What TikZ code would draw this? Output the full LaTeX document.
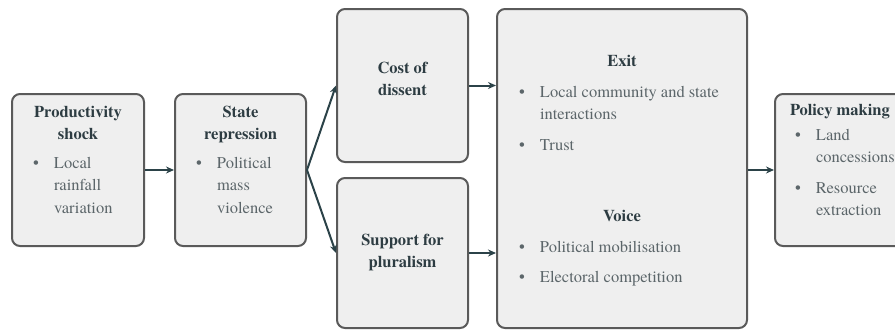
\documentclass[tikz,border=0pt]{standalone}
\usepackage{fontspec}
\setmainfont{texgyretermes}[Extension=.otf,UprightFont=*-regular,BoldFont=*-bold]
\usetikzlibrary{arrows.meta}
\definecolor{bxfill}{RGB}{239,239,239}
\definecolor{bxline}{RGB}{90,90,90}
\definecolor{hdtext}{RGB}{45,60,66}
\definecolor{bdtext}{RGB}{92,102,106}
\definecolor{arcol}{RGB}{43,66,72}
\newcommand{\hd}[1]{\begin{tabular}[t]{@{}c@{}}#1\end{tabular}}
\newcommand{\itm}[1]{\makebox[21pt][l]{\textbullet}\begin{tabular}[t]{@{}l@{}}#1\end{tabular}}

\begin{document}
\begin{tikzpicture}[x=1pt,y=-1pt,line width=2pt,>={Stealth[length=8pt,width=7pt]},
    box/.style={draw=bxline,fill=bxfill,rounded corners=8pt,inner sep=0pt},
    head/.style={inner sep=0pt,anchor=base,text=hdtext,font=\fontsize{16.5}{22.5}\selectfont\bfseries},
    item/.style={inner sep=0pt,anchor=base west,text=bdtext,font=\fontsize{16.5}{22.5}\selectfont},
    link/.style={draw=arcol,->}]
  \useasboundingbox (0,0) rectangle (895,330);
  \clip (0,0) rectangle (895,330);
  % boxes
  \node[box,minimum width=132pt,minimum height=152pt] (prod) at (78,170) {};
  \node[box,minimum width=131pt,minimum height=152pt] (repr) at (240.5,170) {};
  \node[box,minimum width=131pt,minimum height=153pt] (cost) at (402.5,85.5) {};
  \node[box,minimum width=131pt,minimum height=150pt] (plur) at (402.5,253) {};
  \node[box,minimum width=250pt,minimum height=319pt] (exvo) at (622,168.5) {};
  \node[box,minimum width=132pt,minimum height=152pt] (poli) at (841,170) {};
  % texts
  \node[head] (prodhd) at (78,117) {\hd{Productivity\\shock}};
  \node[item] (prodit) at (32,168) {\itm{Local\\rainfall\\variation}};
  \node[head] (reprhd) at (240.5,117) {\hd{State\\repression}};
  \node[item] (reprit) at (195,168) {\itm{Political\\mass\\violence}};
  \node[head] (costhd) at (402.5,73) {\hd{Cost of\\dissent}};
  \node[head] (plurhd) at (402.5,245) {\hd{Support for\\pluralism}};
  \node[head] (exithd) at (622,66) {\hd{Exit}};
  \node[item] (exitone) at (518,97) {\itm{Local community and state\\interactions}};
  \node[item] (exittwo) at (518,150) {\itm{Trust}};
  \node[head] (voicehd) at (622,221) {\hd{Voice}};
  \node[item] (voiceone) at (518,252) {\itm{Political mobilisation}};
  \node[item] (voicetwo) at (518,282) {\itm{Electoral competition}};
  \node[head,anchor=base west] (polihd) at (789,115) {\hd{Policy making}};
  \node[item] (polione) at (794,140) {\itm{Land\\concessions}};
  \node[item] (politwo) at (794,193) {\itm{Resource\\extraction}};
  % connectors
  \draw[link] (prod) -- (repr);
  \draw[link] (repr.east) -- (cost.west);
  \draw[link] (repr.east) -- (plur.west);
  \draw[link] (cost.east) -- (cost.east -| exvo.west);
  \draw[link] (plur.east) -- (plur.east -| exvo.west);
  \draw[link] (exvo.east |- poli.west) -- (poli.west);
\end{tikzpicture}
\end{document}
